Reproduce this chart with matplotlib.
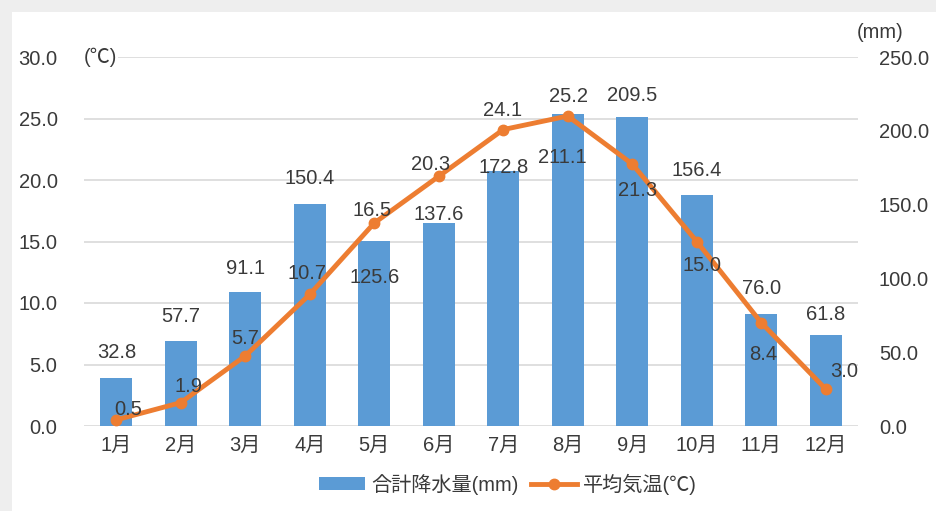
import matplotlib
matplotlib.use('Agg')
import matplotlib.pyplot as plt
from matplotlib import font_manager
from matplotlib.patches import Rectangle, Patch
from matplotlib.lines import Line2D

months = ['1月', '2月', '3月', '4月', '5月', '6月', '7月', '8月', '9月', '10月', '11月', '12月']
rain = [32.8, 57.7, 91.1, 150.4, 125.6, 137.6, 172.8, 211.1, 209.5, 156.4, 76.0, 61.8]
temp = [0.5, 1.9, 5.7, 10.7, 16.5, 20.3, 24.1, 25.2, 21.3, 15.0, 8.4, 3.0]

temp_ticks = [0, 5, 10, 15, 20, 25, 30]
rain_ticks = [0, 50, 100, 150, 200, 250]

# label offsets (pixels) as they were placed in the original
rain_off = [(1, 25), (0, 24), (0, 23), (0, 26), (0, -37), (0, 8), (0, 3),
            (-5, -43), (0, 21), (0, 25), (0, 25), (0, 20)]
temp_off = [(12, 10), (8, 16), (0, 17), (-3, 21), (-2, 13), (-8, 12), (-1, 19),
            (1, 20), (5, -26), (5, -24), (2, -32), (18, 18)]

names = {f.name for f in font_manager.fontManager.ttflist}
base = 'Liberation Sans Narrow' if 'Liberation Sans Narrow' in names else 'Liberation Sans'
plt.rcParams['font.family'] = [base, 'Noto Sans CJK JP', 'DejaVu Sans']

blue = '#5B9BD5'
orange = '#ED7D31'
txt = '#3a3a3a'
fs = 14.5

fig = plt.figure(figsize=(9.36, 5.11), dpi=100)
fig.patch.set_facecolor('#eeeeee')
fig.patches.append(Rectangle((12 / 936, 0), 1, 1 - 12 / 511, transform=fig.transFigure,
                             facecolor='white', edgecolor='none', zorder=-5))

ax_r = fig.add_axes([84 / 936, 1 - 426 / 511, (858 - 84) / 936, (426 - 57) / 511])
ax_t = ax_r.twinx()
ax_r.patch.set_visible(False)

x = list(range(len(months)))
for t in temp_ticks:
    ax_r.axhline(t * 250 / 30, color='#d9d9d9', lw=1.2, zorder=0)
ax_r.bar(x, rain, width=0.5, color=blue, zorder=2)
ax_t.plot(x, temp, color=orange, lw=3.5, marker='o', ms=7.5, zorder=3)

ax_r.set_xlim(-0.5, 11.5)
ax_r.set_ylim(0, 250)
ax_t.set_ylim(0, 30)

ax_r.yaxis.tick_right()
ax_t.yaxis.tick_left()
ax_r.set_yticks(rain_ticks)
ax_r.set_yticklabels([f'{v:.1f}' for v in rain_ticks])
ax_t.set_yticks(temp_ticks)
ax_t.set_yticklabels([f'{v:.1f}' for v in temp_ticks])
ax_r.set_xticks(x)
ax_r.set_xticklabels(months)

ax_r.tick_params(axis='y', length=0, pad=15, labelsize=fs, labelcolor=txt)
ax_t.tick_params(axis='y', length=0, pad=19, labelsize=fs, labelcolor=txt)
ax_r.tick_params(axis='x', length=0, pad=7, labelsize=fs, labelcolor=txt)
for a in (ax_r, ax_t):
    for s in a.spines.values():
        s.set_visible(False)

for i in x:
    ax_r.annotate(f'{rain[i]:.1f}', (i, rain[i]), xytext=rain_off[i], textcoords='offset pixels',
                  ha='center', va='center', fontsize=fs, color=txt, zorder=5)
    ax_t.annotate(f'{temp[i]:.1f}', (i, temp[i]), xytext=temp_off[i], textcoords='offset pixels',
                  ha='center', va='center', fontsize=fs, color=txt, zorder=5)

fig.text(100 / 936, 1 - 57 / 511, '(℃)', ha='center', va='center', fontsize=fs, color=txt,
         bbox=dict(facecolor='white', edgecolor='none', pad=1))
fig.text(880 / 936, 1 - 33 / 511, '(mm)', ha='center', va='center', fontsize=fs, color=txt)

handles = [Patch(facecolor=blue, edgecolor='none'),
           Line2D([], [], color=orange, lw=3.5, marker='o', ms=7.5)]
fig.legend(handles, ['合計降水量(mm)', '平均気温(℃)'], loc='center',
           bbox_to_anchor=(508 / 936, 1 - 484 / 511), ncol=2, frameon=False,
           fontsize=fs, labelcolor=txt, handlelength=2.3, handletextpad=0.3,
           columnspacing=0.6, handleheight=0.6)

fig.savefig('out.png', dpi=100, facecolor=fig.get_facecolor())
